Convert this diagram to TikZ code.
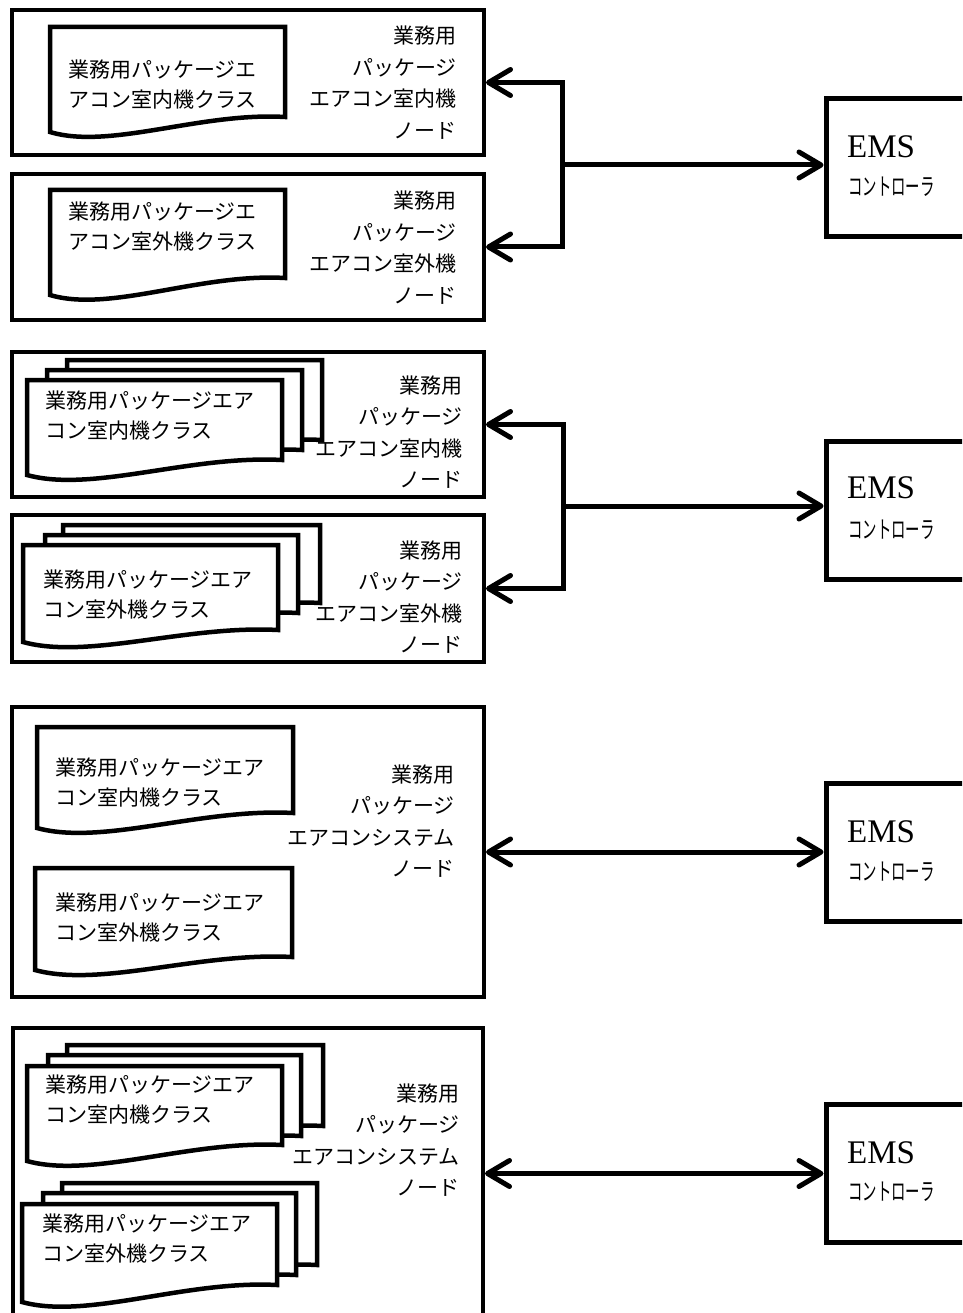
\documentclass[tikz,border=0pt]{standalone}
\usepackage{fontspec}
\newfontfamily\jp{Noto Sans CJK JP}
\newfontfamily\emsfont{Liberation Serif}
\usetikzlibrary{arrows.meta}
\tikzset{
  barb/.tip={Straight Barb[length=22pt 0,width=26pt 0,round]},
  outerbox/.style={draw, line width=4pt, rectangle, inner sep=0pt, miter limit=10},
  emsbox/.style={draw, line width=5pt, fill=white, inner sep=0pt, minimum width=150pt, minimum height=138pt},
  docshape/.style={draw, line width=4.5pt, fill=white, line join=miter},
  doctext/.style={font=\jp\fontsize{21}{30}\selectfont, align=left, inner sep=0pt, anchor=west},
  nodetext/.style={font=\jp\fontsize{21}{31.5}\selectfont, align=right, inner sep=0pt, anchor=east},
  emslabel/.style={font=\emsfont\fontsize{33}{33}\selectfont, inner sep=0pt, anchor=west},
  ctrllabel/.style={font=\jp\fontsize{24}{24}\selectfont, inner sep=0pt, anchor=west},
  connboth/.style={line width=5pt, line join=miter, arrows={barb-barb}},
  connone/.style={line width=5pt, line join=miter, arrows={-barb}},
}
\newcommand\docsh[5]{\draw[docshape] (#1,#3) -- (#2,#3) -- (#2,#5) .. controls ({#1+0.64*(#2-#1)},{#5-5}) and ({#1+0.255*(#2-#1)},{#4+18}) .. (#1,#4) -- cycle;}
\newcommand\ctrl{\scalebox{0.6}[1]{コントローラ}}
\begin{document}
\begin{tikzpicture}[x=1pt,y=-1pt]
\useasboundingbox (0,0) rectangle (962,1313);
\clip (0,0) rectangle (962,1313);
\fill[white] (0,0) rectangle (962,1313);

% ---------- Section 1 ----------
\node[outerbox, minimum width=472pt, minimum height=145pt] (b1) at (248,82.5) {};
\node[outerbox, minimum width=472pt, minimum height=146pt] (b2) at (248,247) {};
\docsh{50}{285}{27}{132}{117}
\node[doctext] (d1) at (68,85) {業務用パッケージエ\\アコン室内機クラス};
\node[nodetext] (r1) at (457,82.5) {業務用\\パッケージ\\エアコン室内機\\ノード};
\docsh{50}{285}{190}{295}{278}
\node[doctext] (d2) at (68,227) {業務用パッケージエ\\アコン室外機クラス};
\node[nodetext] (r2) at (457,247.5) {業務用\\パッケージ\\エアコン室外機\\ノード};
\node[emsbox] (e1) at (901,167.5) {};
\node[emslabel] (e1a) at (847,147) {EMS};
\node[ctrllabel] (e1b) at (848,187) {\ctrl};
\coordinate (j1) at (562,165);
\draw[connboth] (b1.east) -| (j1) |- (b2.east);
\draw[connone] (j1) -- (j1 -| e1.west);

% ---------- Section 2 ----------
\node[outerbox, minimum width=472pt, minimum height=145pt] (b3) at (248,424.5) {};
\node[outerbox, minimum width=472pt, minimum height=147pt] (b4) at (248,588.5) {};
\docsh{67}{322}{360}{455}{440}
\docsh{47}{302}{370}{465}{450}
\docsh{27}{282}{380}{475}{460}
\node[doctext] (d3) at (45,416) {業務用パッケージエア\\コン室内機クラス};
\node[nodetext] (r3) at (463,432) {業務用\\パッケージ\\エアコン室内機\\ノード};
\docsh{63}{320}{525}{618}{603}
\docsh{45}{298}{535}{628}{613}
\docsh{23}{278}{545}{642}{630}
\node[doctext] (d4) at (43,595) {業務用パッケージエア\\コン室外機クラス};
\node[nodetext] (r4) at (463,597) {業務用\\パッケージ\\エアコン室外機\\ノード};
\node[emsbox] (e2) at (901,510) {};
\node[emslabel] (e2a) at (847,488) {EMS};
\node[ctrllabel] (e2b) at (848,530) {\ctrl};
\coordinate (j2) at (563,506);
\draw[connboth] (b3.east) -| (j2) |- (b4.east);
\draw[connone] (j2) -- (j2 -| e2.west);

% ---------- Section 3 ----------
\node[outerbox, minimum width=472pt, minimum height=290pt] (b5) at (248,852) {};
\docsh{37}{293}{727}{828}{813}
\node[doctext] (d5) at (55,783) {業務用パッケージエア\\コン室内機クラス};
\docsh{35}{292}{868}{970}{957}
\node[doctext] (d6) at (55,918) {業務用パッケージエア\\コン室外機クラス};
\node[nodetext] (r5) at (455,821) {業務用\\パッケージ\\エアコンシステム\\ノード};
\node[emsbox] (e3) at (901,852) {};
\node[emslabel] (e3a) at (847,832) {EMS};
\node[ctrllabel] (e3b) at (848,872) {\ctrl};
\draw[connboth] (b5.east) -- (e3.west);

% ---------- Section 4 ----------
\node[outerbox, minimum width=470pt, minimum height=302pt] (b6) at (248,1179) {};
\docsh{67}{323}{1045}{1141}{1126}
\docsh{48}{301}{1055}{1151}{1136}
\docsh{27}{282}{1066}{1161}{1145}
\node[doctext] (d7) at (45,1100) {業務用パッケージエア\\コン室内機クラス};
\docsh{62}{317}{1183}{1280}{1265}
\docsh{43}{296}{1193}{1290}{1275}
\docsh{22}{277}{1204}{1302}{1285}
\node[doctext] (d8) at (42,1239) {業務用パッケージエア\\コン室外機クラス};
\node[nodetext] (r6) at (460,1140) {業務用\\パッケージ\\エアコンシステム\\ノード};
\node[emsbox] (e4) at (901,1173.5) {};
\node[emslabel] (e4a) at (847,1153) {EMS};
\node[ctrllabel] (e4b) at (848,1192) {\ctrl};
\draw[connboth] (b6.east |- e4.west) -- (e4.west);
\end{tikzpicture}
\end{document}
